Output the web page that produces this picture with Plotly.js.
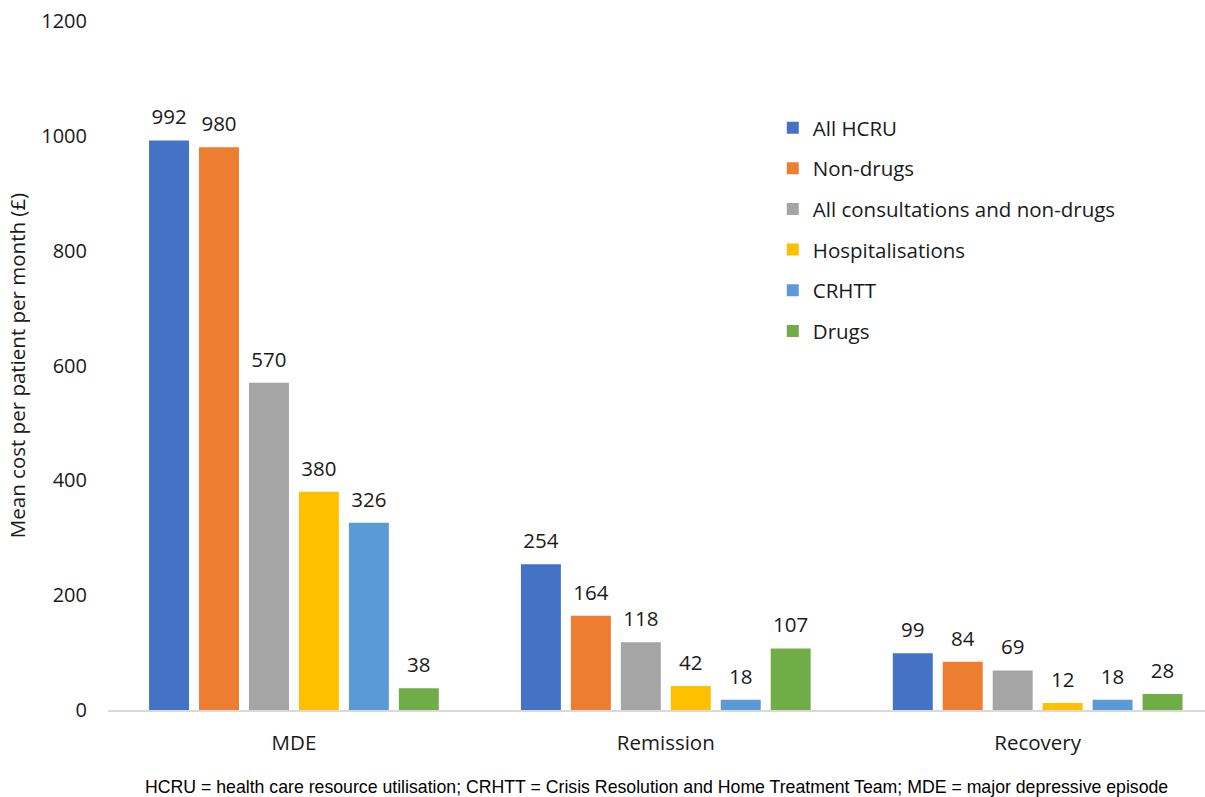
<!DOCTYPE html>
<html>
<head>
<meta charset="utf-8">
<script src="https://cdn.plot.ly/plotly-3.0.1.min.js"></script>
<style>html,body{margin:0;padding:0;background:#fff;}#chart{width:1205px;height:797px;}</style>
</head>
<body>
<div id="chart"></div>
<script>
const categories = ["MDE", "Remission", "Recovery"];
const seriesNames = ["All HCRU", "Non-drugs", "All consultations and non-drugs", "Hospitalisations", "CRHTT", "Drugs"];
const allHCRU = [992, 254, 99];
const nonDrugs = [980, 164, 84];
const allConsultations = [570, 118, 69];
const hospitalisations = [380, 42, 12];
const crhtt = [326, 18, 18];
const drugs = [38, 107, 28];
const seriesValues = [allHCRU, nonDrugs, allConsultations, hospitalisations, crhtt, drugs];
const colors = ["#4472C4", "#ED7D31", "#A5A5A5", "#FFC000", "#5B9BD5", "#70AD47"];
const yTicks = [0, 200, 400, 600, 800, 1000, 1200];

const font = "Open Sans, Lato, sans-serif";
const textColor = "#1a1a1a";

const barTraces = seriesNames.map((name, i) => ({
  type: "bar",
  name: name,
  x: categories,
  y: seriesValues[i],
  marker: {color: colors[i]},
  legendgroup: "g" + i,
  hoverinfo: "none"
}));

const labelTraces = seriesNames.map((name, i) => ({
  type: "scatter",
  mode: "markers+text",
  name: name + " labels",
  x: categories,
  y: seriesValues[i],
  text: seriesValues[i].map(String),
  textposition: "top center",
  textfont: {family: font, size: 20.5, color: textColor},
  marker: {size: 16, opacity: 0, color: colors[i]},
  cliponaxis: false,
  showlegend: false,
  hoverinfo: "none"
}));

const layout = {
  width: 1205,
  height: 797,
  margin: {l: 108, r: 0, t: 21, b: 87},
  paper_bgcolor: "#ffffff",
  plot_bgcolor: "#ffffff",
  barmode: "group",
  bargap: 0.194,
  bargroupgap: 0.2,
  scattermode: "group",
  scattergap: 0.194,
  showlegend: true,
  legend: {
    x: 0.606, y: 0.874, xanchor: "left", yanchor: "top",
    font: {family: font, size: 20.5, color: textColor},
    tracegroupgap: 11,
    bgcolor: "rgba(0,0,0,0)"
  },
  xaxis: {
    range: [-0.5, 2.45],
    showline: true, linecolor: "#D9D9D9", linewidth: 1.5,
    showgrid: false, zeroline: false,
    ticks: "", ticklabelstandoff: 14,
    tickfont: {family: font, size: 20.5, color: textColor}
  },
  yaxis: {
    range: [0, 1200],
    tickvals: yTicks,
    ticktext: yTicks.map(String),
    showgrid: false, zeroline: false, showline: false,
    ticks: "", ticklabelstandoff: 20,
    tickfont: {family: font, size: 20, color: textColor},
    title: {text: "Mean cost per patient per month (£)", font: {family: font, size: 20.5, color: textColor}, standoff: 10}
  },
  annotations: [{
    xref: "paper", yref: "paper",
    x: 0.5, y: -0.112, xanchor: "center", yanchor: "middle",
    showarrow: false,
    text: "HCRU = health care resource utilisation; CRHTT = Crisis Resolution and Home Treatment Team; MDE = major depressive episode",
    font: {family: "Liberation Sans, Arial, sans-serif", size: 17.7, color: "#000000"}
  }]
};

Plotly.newPlot("chart", barTraces.concat(labelTraces), layout, {displayModeBar: false, staticPlot: true});
</script>
</body>
</html>
